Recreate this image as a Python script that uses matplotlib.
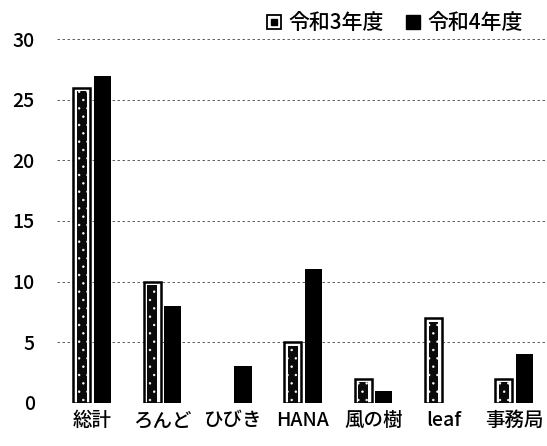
import numpy as np
import matplotlib
matplotlib.use("Agg")
import matplotlib.pyplot as plt
from matplotlib.lines import Line2D
from matplotlib.legend_handler import HandlerTuple

plt.rcParams['font.family'] = ['Noto Sans CJK JP', 'DejaVu Sans']
plt.rcParams['hatch.color'] = 'white'
plt.rcParams['hatch.linewidth'] = 0.5

categories = ['総計', 'ろんど', 'ひびき', 'HANA', '風の樹', 'leaf', '事務局']
r3 = [26, 10, 0, 5, 2, 7, 2]
r4 = [27, 8, 3, 11, 1, 0, 4]
series_names = ['令和3年度', '令和4年度']

fig = plt.figure(figsize=(5.47, 4.46), dpi=100)
ax = fig.add_axes([0.104, 0.097, 0.9, 0.815])

x = np.arange(len(categories))
w = 0.245
off = 0.145

# 令和3年度: outlined bar with dark speckled core (skip zero values)
r3_arr = np.array(r3, dtype=float)
r3_plot = np.where(r3_arr > 0, r3_arr, np.nan)
ax.bar(x - off, r3_plot, w, facecolor='white', edgecolor='black', linewidth=1.8, zorder=3)
inner = np.where(r3_arr > 0, r3_arr - 0.3, np.nan)
ax.bar(x - off, inner, w * 0.55, facecolor='#0a0a0a', edgecolor='white',
       hatch='..', linewidth=0, zorder=4)
# 令和4年度: solid black
r4_arr = np.array(r4, dtype=float)
ax.bar(x + off, np.where(r4_arr > 0, r4_arr, np.nan), w, color='black', zorder=3)

ax.set_ylim(0, 30)
ax.set_yticks(range(0, 31, 5))
ax.set_xlim(-0.5, len(categories) - 0.5)
ax.set_xticks(x)
ax.set_xticklabels(categories, fontsize=14, fontweight='medium')
for t in ax.get_yticklabels():
    t.set_fontweight('medium')
ax.tick_params(axis='y', labelsize=14, length=0, pad=16)
ax.tick_params(axis='x', length=0, pad=6)
ax.yaxis.grid(True, color='#444444', linestyle=(0, (3, 3)), linewidth=0.6)
ax.set_axisbelow(True)
for s in ax.spines.values():
    s.set_visible(False)

h3 = (Line2D([], [], marker='s', linestyle='none', markersize=10,
             markerfacecolor='white', markeredgecolor='black', markeredgewidth=1.3),
      Line2D([], [], marker='s', linestyle='none', markersize=4,
             markerfacecolor='black', markeredgecolor='black'))
h4 = Line2D([], [], marker='s', linestyle='none', markersize=10,
            markerfacecolor='black', markeredgecolor='black')
fig.legend([h3, h4], series_names, loc='upper right', bbox_to_anchor=(0.99, 1.015),
           ncol=2, frameon=False, prop={'size': 15, 'weight': 'medium'},
           handlelength=0.8, handletextpad=0.3, columnspacing=1.0,
           handler_map={tuple: HandlerTuple(ndivide=1)})

fig.savefig('out.png', dpi=100, facecolor='white')
